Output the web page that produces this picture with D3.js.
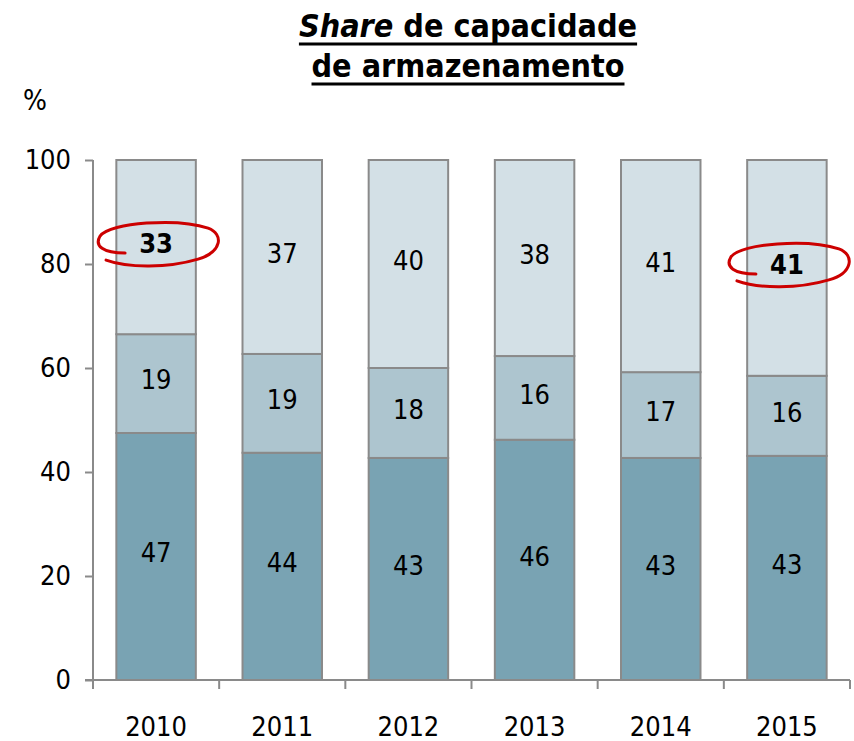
<!DOCTYPE html>
<html><head><meta charset="utf-8">
<script src="https://cdn.jsdelivr.net/npm/d3@7"></script>
<style>
body{margin:0;background:#fff;}
svg text{font-family:"DejaVu Sans Condensed","DejaVu Sans",sans-serif;font-stretch:condensed;}
</style></head>
<body><svg id="c" width="854" height="741"></svg>
<script>
const years = ["2010","2011","2012","2013","2014","2015"];
const bottomVals = [47.5, 43.7, 42.7, 46.2, 42.7, 43.1];
const middleVals = [19.0, 19.0, 17.3, 16.1, 16.5, 15.4];
const topVals    = [33.5, 37.3, 40.0, 37.7, 40.8, 41.5];
const bottomLabels = ["47","44","43","46","43","43"];
const middleLabels = ["19","19","18","16","17","16"];
const topLabels    = ["33","37","40","38","41","41"];
const highlighted = [["2010","top"],["2015","top"]];
const yTicks = [0,20,40,60,80,100];
const titleLines = [["Share"," de capacidade"],["de armazenamento"]];
const unitLabel = "%";

const seriesKeys = ["bottom","middle","top"];
const colors = {bottom:"#79a3b3", middle:"#adc5cf", top:"#d3e0e6"};
const rows = years.map((y,i)=>({year:y, bottom:bottomVals[i], middle:middleVals[i], top:topVals[i],
  labels:{bottom:bottomLabels[i], middle:middleLabels[i], top:topLabels[i]}}));

const svg = d3.select("#c");
const x = d3.scaleBand().domain(years).range([93,850]).paddingInner(0.37).paddingOuter(0.185);
const y = d3.scaleLinear().domain([0,100]).range([680,160]);
const stack = d3.stack().keys(seriesKeys)(rows);

const g = svg.append("g");
stack.forEach(layer=>{
  g.selectAll(null).data(layer).enter().append("rect")
    .attr("x", d=>x(d.data.year)).attr("width", x.bandwidth())
    .attr("y", d=>y(d[1])).attr("height", d=>y(d[0])-y(d[1]))
    .attr("fill", colors[layer.key]).attr("stroke","#8a8a8a").attr("stroke-width",2);
});
const fs = 27;
stack.forEach(layer=>{
  g.selectAll(null).data(layer).enter().append("text")
    .attr("x", d=>x(d.data.year)+x.bandwidth()/2)
    .attr("y", d=>y((d[0]+d[1])/2) - 4 + fs*0.36)
    .attr("text-anchor","middle").attr("font-size",fs)
    .attr("font-weight", d=>highlighted.some(h=>h[0]===d.data.year&&h[1]===layer.key)?"bold":"normal")
    .attr("fill","#000").text(d=>d.data.labels[layer.key]);
});

// axes
const axisColor = "#8a8a8a";
const yAxis = d3.axisLeft(y).tickValues(yTicks).tickSize(8).tickPadding(14);
const ya = svg.append("g").attr("transform","translate(93,0)").call(yAxis);
ya.select(".domain").attr("stroke",axisColor).attr("stroke-width",2).attr("d","M0,160V680");
ya.selectAll(".tick line").attr("stroke",axisColor).attr("stroke-width",2);
ya.selectAll(".tick text").attr("font-size",27).attr("fill","#000").attr("font-family",null);

const xa = svg.append("g");
xa.append("line").attr("x1",85).attr("x2",850).attr("y1",680).attr("y2",680).attr("stroke",axisColor).attr("stroke-width",2);
const bounds = years.map(yr=>x(yr)-x.step()*x.paddingInner()/2).concat([850]);
xa.selectAll(null).data(bounds).enter().append("line")
  .attr("x1",d=>d).attr("x2",d=>d).attr("y1",680).attr("y2",689).attr("stroke",axisColor).attr("stroke-width",2);
xa.selectAll(null).data(years).enter().append("text")
  .attr("x",d=>x(d)+x.bandwidth()/2).attr("y",736).attr("text-anchor","middle")
  .attr("font-size",27).attr("fill","#000").text(d=>d);

// unit
svg.append("text").attr("x",35).attr("y",110).attr("text-anchor","middle").attr("font-size",28).text(unitLabel);

// title
const tfs = 32;
titleLines.forEach((parts,i)=>{
  const t = svg.append("text").attr("x",468).attr("y",37+i*40).attr("text-anchor","middle")
    .attr("font-size",tfs).attr("font-weight","bold");
  parts.forEach((p,j)=>{
    t.append("tspan").attr("font-style", (i===0&&j===0)?"italic":"normal").text(p);
  });
  const bb = t.node().getBBox();
  svg.append("line").attr("x1",bb.x).attr("x2",bb.x+bb.width).attr("y1",37+i*40+7).attr("y2",37+i*40+7)
    .attr("stroke","#000").attr("stroke-width",3);
});

// red hand-drawn circles
highlighted.forEach(h=>{
  const layer = stack.find(l=>l.key===h[1]);
  const d = layer.find(e=>e.data.year===h[0]);
  const cx = x(h[0])+x.bandwidth()/2+2, cy = y((d[0]+d[1])/2)-3;
  const p = d3.path();
  p.moveTo(cx-33,cy+9);
  p.bezierCurveTo(cx-55,cy+9,cx-64,cy+2,cx-58,cy-8);
  p.bezierCurveTo(cx-48,cy-22,cx+20,cy-26,cx+50,cy-16);
  p.bezierCurveTo(cx+66,cy-10,cx+64,cy+8,cx+40,cy+15);
  p.bezierCurveTo(cx+10,cy+24,cx-30,cy+24,cx-52,cy+16);
  svg.append("path").attr("d",p.toString()).attr("fill","none").attr("stroke","#cc0000")
    .attr("stroke-width",3).attr("stroke-linecap","round");
});
</script></body></html>
